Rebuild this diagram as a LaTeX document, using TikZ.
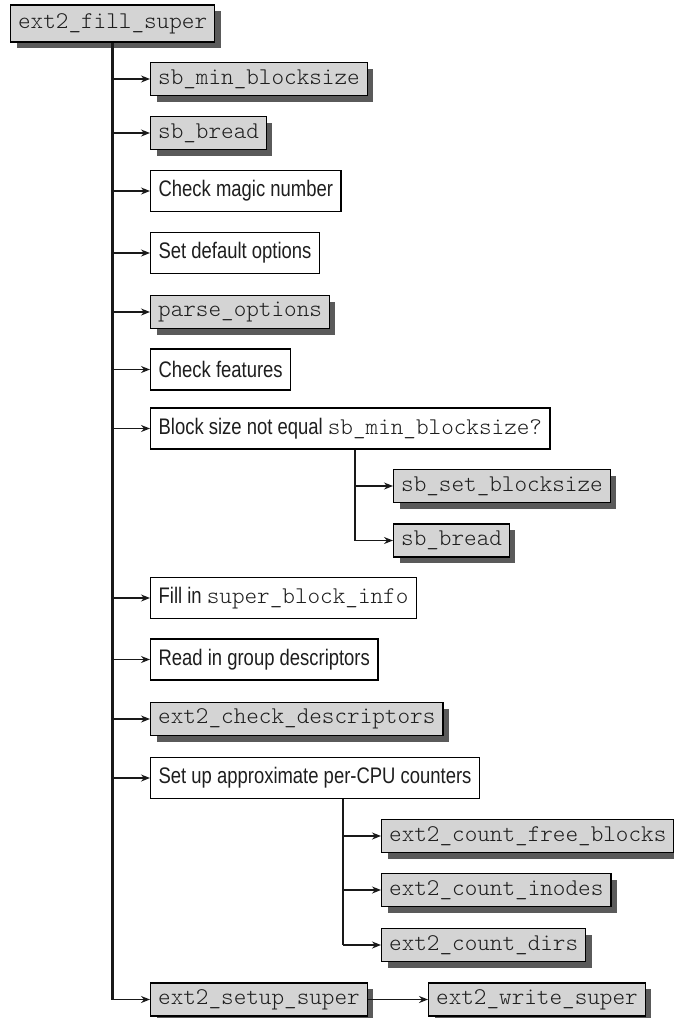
\documentclass[tikz,border=0pt]{standalone}
\usepackage{fontspec}
\setmainfont{Liberation Sans}[FakeStretch=0.82]
\setmonofont{Latin Modern Mono Light}
\usetikzlibrary{arrows.meta,shadows}
\definecolor{boxgray}{HTML}{D4D4D4}
\definecolor{shadowgray}{HTML}{5A5A5A}
\definecolor{textc}{HTML}{1E1E1E}
\newcommand\sansf{\rmfamily\fontsize{22.5}{27}\selectfont}
\newcommand\monof{\ttfamily\fontsize{24}{28}\selectfont}
\newcommand\code[1]{{\monof #1}}
\begin{document}
\begin{tikzpicture}[x=1pt,y=-1pt,
  gbox/.style={draw=black, fill=boxgray, line width=1.3pt, minimum height=33pt,
    inner xsep=7.5pt, inner ysep=0pt, font=\monof, text=textc, anchor=west,
    general shadow={fill=shadowgray, shadow xshift=6pt, shadow yshift=-6pt}},
  wbox/.style={draw=black, fill=white, line width=1.3pt, minimum height=41pt,
    inner xsep=8pt, inner ysep=0pt, font=\sansf, text=textc, anchor=west},
  trunk/.style={line width=3pt, draw=black!90},
  subtrunk/.style={line width=2.4pt, draw=black!90},
  arr/.style={line width=1.4pt, draw=black!90, -{Stealth[length=9pt,width=7pt,inset=3pt]}}
]
\useasboundingbox (0,0) rectangle (673,1018);

\node[gbox, minimum height=37pt] (top) at (10,23.5) {ext2\_fill\_super};
\node[gbox] (sbmin) at (150,79) {sb\_min\_blocksize};
\node[gbox] (sbbread) at (150,133) {sb\_bread};
\node[wbox] (magic) at (150,191) {Check magic number};
\node[wbox] (defopt) at (150,253) {Set default options};
\node[gbox] (parse) at (150,312) {parse\_options};
\node[wbox] (feat) at (150,369.5) {Check features};
\node[wbox] (blk) at (150,428.5) {Block size not equal \code{sb\_min\_blocksize?}};
\node[gbox] (setbs) at (393,486) {sb\_set\_blocksize};
\node[gbox] (sbbreadb) at (393,540.5) {sb\_bread};
\node[wbox] (fill) at (150,598) {Fill in \code{super\_block\_info}};
\node[wbox] (readgrp) at (150,659.5) {Read in group descriptors};
\node[gbox] (chk) at (150,719) {ext2\_check\_descriptors};
\node[wbox] (percpu) at (150,778) {Set up approximate per-CPU counters};
\node[gbox] (cfree) at (381,836) {ext2\_count\_free\_blocks};
\node[gbox] (cino) at (381,890) {ext2\_count\_inodes};
\node[gbox] (cdirs) at (381,945) {ext2\_count\_dirs};
\node[gbox] (ssuper) at (150,999.5) {ext2\_setup\_super};
\node[gbox] (wsuper) at (428,999.5) {ext2\_write\_super};

\coordinate (s1) at (355,0);
\coordinate (s2) at (343,0);
\coordinate (corner) at (top.south |- ssuper.west);
\coordinate (c1) at (s1 |- sbbreadb.west);
\coordinate (c2) at (s2 |- cdirs.west);

% main trunk
\draw[trunk] (top.south) -- (corner);
\foreach \n in {sbmin,sbbread,magic,defopt,parse,feat,blk,fill,readgrp,chk,percpu}
  \draw[arr] (top.south |- \n.west) -- (\n.west);
\draw[arr] (corner) -- (ssuper.west);
\draw[arr] (ssuper.east) -- (wsuper.west);

% sub trunk 1
\draw[subtrunk] (s1 |- blk.south) -- (c1);
\draw[arr] (s1 |- setbs.west) -- (setbs.west);
\draw[arr] (c1) -- (sbbreadb.west);

% sub trunk 2
\draw[subtrunk] (s2 |- percpu.south) -- (c2);
\draw[arr] (s2 |- cfree.west) -- (cfree.west);
\draw[arr] (s2 |- cino.west) -- (cino.west);
\draw[arr] (c2) -- (cdirs.west);
\end{tikzpicture}
\end{document}
